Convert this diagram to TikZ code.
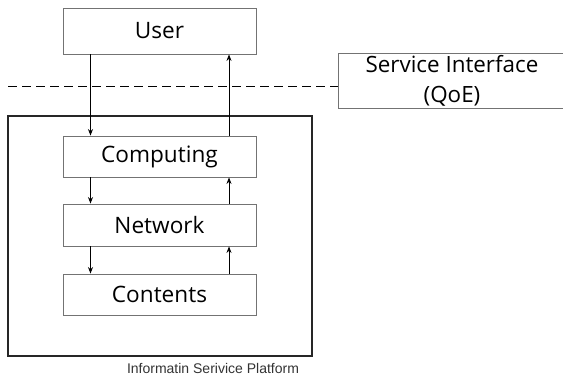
\documentclass[tikz,border=0pt]{standalone}
\usepackage{fontspec}
\setmainfont{Open Sans}
\newfontfamily\labelfont{Liberation Sans}
\usetikzlibrary{arrows.meta}
\begin{document}
\begin{tikzpicture}[x=1pt,y=-1pt,
  layer/.style={draw=black!55, line width=0.9pt, fill=white, minimum width=193pt,
    inner sep=0pt, font=\fontsize{22.6}{26}\selectfont},
  flow/.style={line width=0.8pt, -{Stealth[length=6.5pt,width=5pt]}}]
\useasboundingbox (0,0) rectangle (563,378);
% platform frame and caption
\node[draw=black!85, line width=1.1pt, minimum width=304pt, minimum height=240pt, inner sep=0pt]
  (platform) at (160,236) {};
\node[text=black!80, font=\labelfont\fontsize{14}{16}\selectfont] (caption) at (213,368) {Informatin Serivice Platform};
% layer boxes
\node[layer, minimum height=46pt] (user) at (159.5,31) {User};
\node[layer, minimum height=41pt] (comp) at (159.5,156.5) {Computing};
\node[layer, minimum height=42pt] (net) at (159.5,225) {Network};
\node[layer, minimum height=41pt] (cont) at (159.5,294.5) {Contents};
% service interface box and boundary line
\node[draw=black!55, line width=0.9pt, minimum width=228pt, minimum height=55pt, inner sep=0pt,
  align=center, font=\fontsize{22.4}{30}\selectfont] (svc) at (452,80.5) {Service Interface\\(QoE)};
\coordinate (dashstart) at (8,86);
\draw[line width=0.9pt, dash pattern=on 9pt off 5pt] (dashstart) -- (dashstart -| svc.west);
% request/response arrows
\foreach \a/\b in {user/comp, comp/net, net/cont} {
  \draw[flow] ([xshift=-69pt]\a.south) -- ([xshift=-69pt]\b.north);
  \draw[flow] ([xshift=69.5pt]\b.north) -- ([xshift=69.5pt]\a.south);
}
\end{tikzpicture}
\end{document}
